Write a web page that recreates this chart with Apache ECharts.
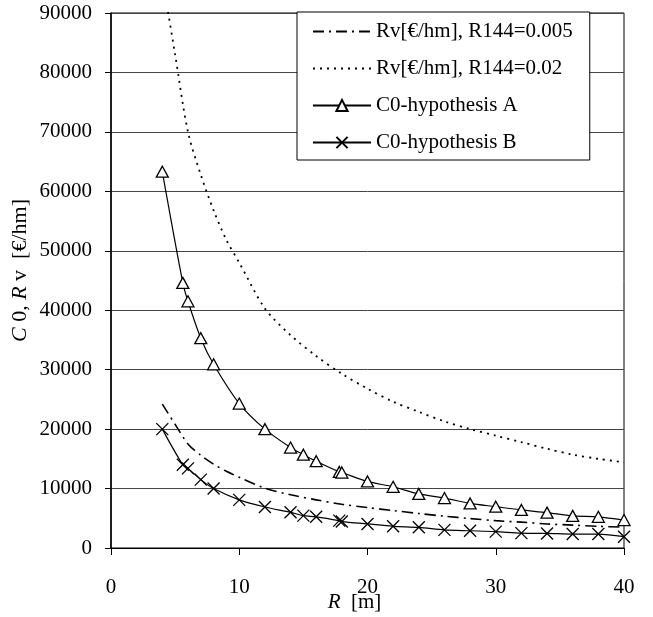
<!DOCTYPE html>
<html>
<head>
<meta charset="utf-8">
<script src="https://cdn.jsdelivr.net/npm/echarts@6/dist/echarts.min.js"></script>
<style>html,body{margin:0;padding:0;background:#fff}#c{width:653px;height:617px}</style>
</head>
<body>
<div id="c"></div>
<script>
// Data
var xTicks = [0, 10, 20, 30, 40];
var yTicks = [0, 10000, 20000, 30000, 40000, 50000, 60000, 70000, 80000, 90000];

var xRv = [4, 5, 6, 7, 8, 9, 10, 12, 14, 16, 18, 20, 22, 24, 26, 28, 30, 32, 34, 36, 38, 40];
var yRv005 = [24200, 20800, 17500, 15600, 14100, 12900, 11900, 10050, 8950, 8100, 7350, 6800, 6300, 5800, 5350, 4950, 4600, 4350, 4050, 3850, 3650, 3500];
var yRv02 = [96000, 83000, 70000, 62800, 56800, 51800, 48000, 40300, 35800, 32300, 29300, 26800, 24600, 22900, 21300, 20000, 18900, 17800, 16700, 15700, 15000, 14400];

var xA = [4, 5.6, 6, 7, 8, 10, 12, 14, 15, 16, 17.8, 18, 20, 22, 24, 26, 28, 30, 32, 34, 36, 38, 40];
var yA = [63300, 44600, 41500, 35300, 30900, 24300, 20000, 16900, 15700, 14600, 12800, 12700, 11200, 10300, 9100, 8400, 7500, 6950, 6400, 5950, 5400, 5250, 4700];

var xB = [4, 5.6, 6, 7, 8, 10, 12, 14, 15, 16, 17.8, 18, 20, 22, 24, 26, 28, 30, 32, 34, 36, 38, 40];
var yB = [20000, 14000, 13400, 11500, 10000, 8100, 6900, 6000, 5450, 5250, 4600, 4450, 4050, 3650, 3480, 3050, 2900, 2750, 2500, 2450, 2350, 2350, 1900];

var names = ['Rv[€/hm], R144=0.005', 'Rv[€/hm], R144=0.02', 'C0-hypothesis A', 'C0-hypothesis B'];

function zip(xs, ys) { return xs.map(function (x, i) { return [x, ys[i]]; }); }

var FONT = '"Liberation Serif", "DejaVu Serif", serif';
var chart = echarts.init(document.getElementById('c'), null, {renderer: 'canvas'});
chart.setOption({
  animation: false,
  backgroundColor: '#fff',
  textStyle: {fontFamily: FONT, color: '#000'},
  grid: {left: 111, right: 29, top: 13, bottom: 69, show: true, borderColor: '#000', borderWidth: 1,
    containLabel: false, outerBoundsMode: 'none'},
  legend: {
    orient: 'vertical', left: 297, top: 12,
    padding: [9, 17, 7, 15],
    backgroundColor: '#fff', borderColor: '#000', borderWidth: 1,
    itemWidth: 58, itemHeight: 14, itemGap: 16,
    textStyle: {fontFamily: FONT, fontSize: 21, color: '#000', lineHeight: 21},
    data: [
      {name: names[0], itemStyle: {opacity: 0}},
      {name: names[1], itemStyle: {opacity: 0}},
      {name: names[2]},
      {name: names[3]}
    ]
  },
  xAxis: {
    type: 'value', min: 0, max: 40, interval: 10,
    name: '{i|R}  [m]', nameLocation: 'middle', nameGap: 44, nameMoveOverlap: false,
    nameTextStyle: {fontFamily: FONT, fontSize: 21, color: '#000', padding: [0, 26, 0, 0],
      rich: {i: {fontFamily: FONT, fontStyle: 'italic', fontSize: 21, color: '#000'}}},
    axisLine: {lineStyle: {color: '#000', width: 1}},
    axisTick: {show: true, inside: false, length: 7, lineStyle: {color: '#000'}},
    axisLabel: {fontFamily: FONT, fontSize: 21, color: '#000', margin: 29,
      formatter: function (v) { return xTicks.indexOf(v) >= 0 ? String(v) : ''; }},
    splitLine: {show: false}
  },
  yAxis: {
    type: 'value', min: 0, max: 90000, interval: 10000,
    name: '{i|C} 0, {i|R} v  [€/hm]', nameLocation: 'middle', nameGap: 80, nameRotate: 90, nameMoveOverlap: false,
    nameTextStyle: {fontFamily: FONT, fontSize: 22, color: '#000', padding: [0, 0, 0, 20],
      rich: {i: {fontFamily: FONT, fontStyle: 'italic', fontSize: 22, color: '#000'}}},
    axisLine: {show: true, lineStyle: {color: '#000', width: 1.5}},
    axisTick: {show: true, inside: false, length: 6, lineStyle: {color: '#000'}},
    axisLabel: {fontFamily: FONT, fontSize: 21, color: '#000', margin: 19,
      formatter: function (v) { return yTicks.indexOf(v) >= 0 ? String(v) : ''; }},
    splitLine: {show: true, lineStyle: {color: '#444', width: 1}}
  },
  series: [
    {name: names[0], type: 'line', data: zip(xRv, yRv005), smooth: 0.3, showSymbol: false, symbol: 'none',
      lineStyle: {color: '#000', width: 1.6, type: [11, 5, 2, 5]}, itemStyle: {color: '#000'}},
    {name: names[1], type: 'line', data: zip(xRv, yRv02), smooth: 0.3, showSymbol: false, symbol: 'none',
      lineStyle: {color: '#000', width: 1.8, type: [2, 5]}, itemStyle: {color: '#000'}},
    {name: names[2], type: 'line', data: zip(xA, yA), smooth: 0.3, symbol: 'triangle', symbolSize: [12, 11],
      lineStyle: {color: '#000', width: 1.2}, itemStyle: {color: '#fff', borderColor: '#000', borderWidth: 1.3}},
    {name: names[3], type: 'line', data: zip(xB, yB), smooth: 0.3,
      symbol: 'path://M0,0L10,10M10,0L0,10', symbolSize: 12, symbolKeepAspect: true,
      lineStyle: {color: '#000', width: 1.2}, itemStyle: {color: 'none', borderColor: '#000', borderWidth: 1.3}}
  ]
});
</script>
</body>
</html>
